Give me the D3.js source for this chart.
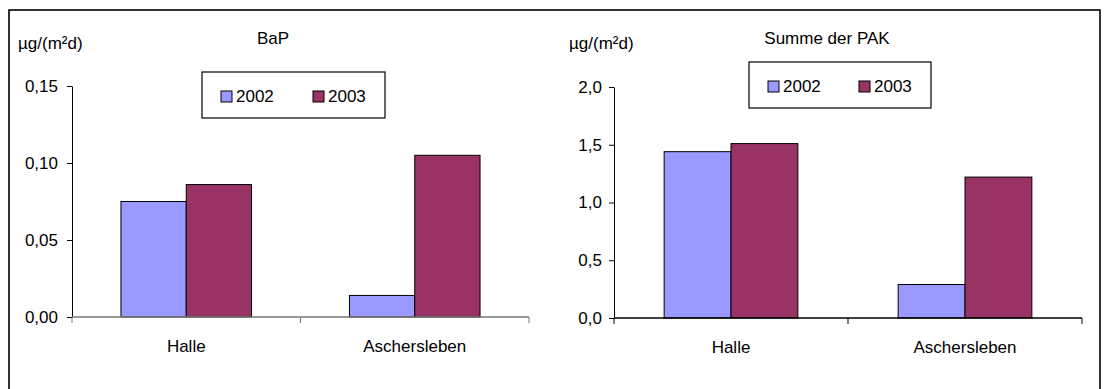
<!DOCTYPE html>
<html><head><meta charset="utf-8">
<script src="https://cdn.jsdelivr.net/npm/d3@7"></script>
<style>
html,body{margin:0;padding:0;background:#fff;}
text{font-family:"Liberation Sans",Arial,sans-serif;fill:#000;}
</style></head>
<body><svg id="c" width="1104" height="389"></svg>
<script>
const categories = ["Halle", "Aschersleben"];
const years = ["2002", "2003"];
const bap2002 = [0.075, 0.014];
const bap2003 = [0.086, 0.105];
const pak2002 = [1.44, 0.29];
const pak2003 = [1.51, 1.22];
const bapTicks = [0, 0.05, 0.10, 0.15];
const pakTicks = [0, 0.5, 1.0, 1.5, 2.0];
const unitLabel = "µg/(m²d)";
const titles = ["BaP", "Summe der PAK"];
const colors = ["#9999FF", "#993366"];

const svg = d3.select("#c");
const FS = 17;

svg.append("rect").attr("x", 9).attr("y", 10).attr("width", 1091).attr("height", 420)
  .attr("fill", "none").attr("stroke", "#000").attr("stroke-width", 1.6);

function panel(o) {
  const g = svg.append("g");
  const y = d3.scaleLinear().domain(o.domain).range([o.y0, o.y1]);
  const x = d3.scaleBand().domain(categories).range([o.x0, o.x1]).padding(0);
  const xi = d3.scaleBand().domain(years).range([0, x.bandwidth()]).paddingInner(0).paddingOuter(0.75);
  const fmt = v => d3.format(o.fmt)(v).replace(".", ",");

  // y axis
  const ya = g.append("g").attr("transform", `translate(${o.x0},0)`)
    .call(d3.axisLeft(y).tickValues(o.ticks).tickFormat(fmt).tickSize(5).tickSizeOuter(0).tickPadding(o.pad));
  ya.select(".domain").attr("stroke", "#000");
  ya.selectAll(".tick line").attr("stroke", "#000");
  ya.selectAll("text").style("font-size", FS + "px").attr("font-family", null);

  // bars
  const series = [o.v2002, o.v2003];
  years.forEach((yr, si) => {
    g.selectAll(null).data(categories).enter().append("rect")
      .attr("x", c => x(c) + xi(yr))
      .attr("width", xi.bandwidth())
      .attr("y", (c, i) => y(series[si][i]))
      .attr("height", (c, i) => y(0) - y(series[si][i]))
      .attr("fill", colors[si]).attr("stroke", "#000").attr("stroke-width", 1);
  });

  // x axis
  const xa = g.append("g").attr("transform", `translate(0,${o.y0})`);
  xa.append("line").attr("x1", o.x0).attr("x2", o.x1).attr("y1", 0).attr("y2", 0)
    .attr("stroke", o.xcol).attr("stroke-width", 1.5);
  const bounds = [o.x0].concat(categories.map(c => x(c) + x.bandwidth()));
  xa.selectAll(null).data(bounds).enter().append("line")
    .attr("x1", d => d).attr("x2", d => d).attr("y1", 0).attr("y2", 6)
    .attr("stroke", o.xcol).attr("stroke-width", 1);
  xa.selectAll(null).data(categories).enter().append("text")
    .attr("x", c => x(c) + x.bandwidth() / 2).attr("y", 35)
    .attr("text-anchor", "middle").style("font-size", FS + "px").text(c => c);

  // labels
  g.append("text").attr("x", o.ux).attr("y", 49).style("font-size", FS + "px").text(unitLabel);
  g.append("text").attr("x", o.tx).attr("y", 44).attr("text-anchor", "middle")
    .style("font-size", FS + "px").text(o.title);

  // legend
  const L = o.leg;
  g.append("rect").attr("x", L.x).attr("y", L.y).attr("width", L.w).attr("height", L.h)
    .attr("fill", "#fff").attr("stroke", "#000").attr("stroke-width", 1.2);
  years.forEach((yr, i) => {
    const sx = L.x + L.sx[i];
    g.append("rect").attr("x", sx).attr("y", L.by - 11).attr("width", 11).attr("height", 11)
      .attr("fill", colors[i]).attr("stroke", "#000").attr("stroke-width", 1);
    g.append("text").attr("x", sx + 15).attr("y", L.by).style("font-size", FS + "px").text(yr);
  });
}

panel({domain: [0, 0.15], ticks: bapTicks, fmt: ".2f", x0: 72, x1: 529, y0: 317, y1: 86,
  v2002: bap2002, v2003: bap2003, pad: 9, xcol: "#777", ux: 18, tx: 273, title: titles[0],
  leg: {x: 202, y: 72, w: 183, h: 46, sx: [19, 111], by: 102}});
panel({domain: [0, 2.0], ticks: pakTicks, fmt: ".1f", x0: 614, x1: 1082, y0: 318, y1: 87,
  v2002: pak2002, v2003: pak2003, pad: 7, xcol: "#000", ux: 569, tx: 827, title: titles[1],
  leg: {x: 749, y: 62, w: 182, h: 46, sx: [19, 110], by: 92}});
</script></body></html>
